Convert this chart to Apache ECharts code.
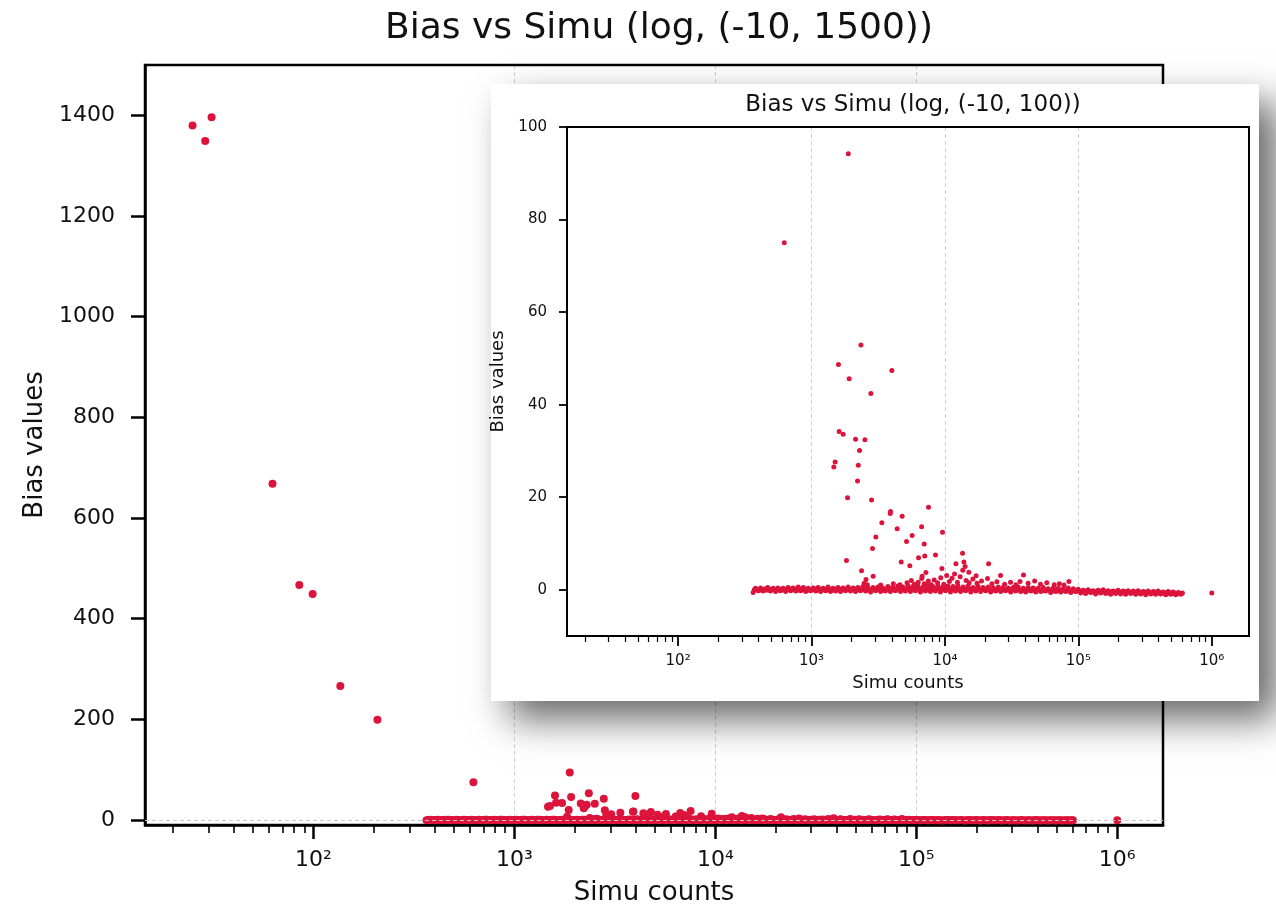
<!DOCTYPE html>
<html>
<head>
<meta charset="utf-8">
<script src="https://cdn.jsdelivr.net/npm/echarts@6/dist/echarts.min.js"></script>
<style>
  html, body { margin: 0; padding: 0; background: #fff; }
  #chart { width: 1276px; height: 911px; }
</style>
</head>
<body>
<div id="chart"></div>
<script>
// simu count / bias value pairs
const outliers = [
  [25, 1380], [28.9, 1349], [31.1, 1396], [62.5, 668], [85, 467], [99, 449], [136, 266], [208, 199],
  [625, 75], [1885, 94.2], [2345, 52.9], [1592, 48.7], [1915, 45.6], [4000, 47.4], [2785, 42.4],
  [1611, 34.2], [1726, 33.6], [2138, 32.5], [2512, 32.4], [2291, 30.1], [1503, 27.6], [1469, 26.5],
  [2241, 26.9], [2213, 23.5], [1862, 19.9], [2818, 19.4], [3908, 16.9], [3890, 16.5], [7530, 17.8],
  [4775, 15.9], [3365, 14.5], [4385, 13.2], [6683, 13.6], [9590, 12.4], [3033, 11.4], [5675, 11.7],
  [5153, 10.4], [6985, 9.9], [2865, 8.9], [6340, 6.9], [7060, 7.3], [8490, 7.5], [4700, 6.0],
  [5455, 5.2], [1828, 6.3], [9490, 4.6], [2371, 4.1], [2897, 2.9], [7195, 3.7], [6745, 2.9],
  [13550, 7.9], [12080, 5.6], [13870, 6.0], [14150, 5.0], [17130, 3.0], [21230, 5.6], [15100, 3.8],
  [20840, 2.4], [26100, 3.1], [38800, 3.2], [84900, 1.8], [1000000, -0.7]
];

// the dense cloud sitting on zero (outer rows)
const band = [
  [365, -0.6], [380, 0.3], [398, -0.2], [415, 0.4], [433, -0.3], [452, 0.2], [470, 0.5], [492, -0.3],
  [515, 0.3], [538, -0.4], [560, 0.4], [585, -0.2], [612, 0.3], [640, -0.4], [668, 0.5], [698, -0.2],
  [730, 0.4], [762, -0.3], [795, 0.6], [830, -0.2], [868, 0.5], [905, -0.4], [945, 0.3], [985, -0.2],
  [1030, 0.4], [1075, -0.3], [1120, 0.5], [1170, -0.4], [1220, 0.3], [1275, -0.2], [1330, 0.6], [1390, -0.4],
  [1450, 0.3], [1515, -0.3], [1580, 0.5], [1650, -0.4], [1720, 0.4], [1800, -0.2], [1880, 0.6], [1960, -0.3],
  [2050, 0.4], [2140, -0.4], [2230, 0.5], [2330, -0.2], [2430, 0.7], [2540, -0.3], [2650, 0.4], [2770, -0.5],
  [2890, 0.5], [3020, -0.2], [3150, 0.6], [3290, -0.4], [3430, 0.3], [3580, -0.3], [3740, 0.7], [3900, -0.4],
  [4070, 0.5], [4250, -0.2], [4440, 0.8], [4640, -0.4], [4840, 0.6], [5050, -0.3], [5280, 0.9], [5510, -0.4],
  [5750, 0.7], [6000, -0.2], [6270, 0.8], [6550, -0.5], [6840, 0.6], [7140, -0.3], [7450, 0.9], [7780, -0.4],
  [8120, 0.7], [8480, -0.3], [8850, 0.8], [9240, -0.5], [9650, 0.6],
  [10100, -0.2], [10550, 0.8], [11000, -0.5], [11500, 0.7], [12000, -0.3], [12500, 0.9], [13100, -0.4],
  [13700, 0.6], [14300, -0.2], [14900, 0.8], [15600, -0.5], [16300, 0.5], [17000, -0.3], [17700, 0.7],
  [18500, -0.4], [19300, 0.5], [20200, -0.2], [21100, 0.6], [22000, -0.5], [23000, 0.4], [24000, -0.3],
  [25100, 0.6], [26200, -0.4], [27300, 0.5], [28500, -0.2], [29800, 0.4], [31100, -0.5], [32500, 0.5],
  [33900, -0.3], [35400, 0.6], [37000, -0.4], [38600, 0.3], [40300, -0.5], [42100, 0.5], [44000, -0.3],
  [45900, 0.4], [47900, -0.5], [50000, 0.3], [52200, -0.4], [54500, 0.5], [56900, -0.3], [59400, 0.2],
  [62000, -0.6], [64800, 0.4], [67600, -0.4], [70600, 0.3], [73700, -0.5], [77000, 0.2], [80400, -0.4],
  [83900, 0.4], [87600, -0.6], [91500, 0.2], [95500, -0.4],
  [99700, 0.1], [104000, -0.7], [108500, -0.1], [113300, -0.8], [118300, 0.0], [123500, -0.6], [129000, -0.2],
  [134700, -0.9], [140600, -0.1], [146800, -0.7], [153300, 0.0], [160000, -0.8], [167100, -0.2], [174500, -1.0],
  [182200, -0.3], [190200, -0.8], [198600, -0.1], [207400, -0.9], [216500, -0.3], [226100, -1.0], [236000, -0.2],
  [246500, -0.8], [257300, -0.3], [268700, -1.0], [280500, -0.2], [292900, -0.9], [305800, -0.4], [319300, -1.1],
  [333400, -0.3], [348100, -0.9], [363400, -0.4], [379500, -1.0], [396200, -0.3], [413700, -0.9], [431900, -0.5],
  [451000, -1.1], [470900, -0.4], [491600, -1.0], [513300, -0.5], [536000, -1.1], [559600, -0.6], [584300, -1.0],
  [602000, -0.7]
];

// the dense cloud, middle row
const bandMid = [
  [372, 0.0], [389, 0.1], [406, -0.1], [424, 0.1], [442, 0.0], [461, -0.1], [481, 0.1], [503, 0.0],
  [526, 0.1], [549, -0.1], [572, 0.0], [598, 0.1], [626, -0.1], [654, 0.1], [683, 0.0], [714, 0.2],
  [746, 0.0], [778, 0.1], [812, -0.1], [849, 0.2], [886, 0.0], [925, 0.1], [965, -0.1], [1008, 0.1],
  [1052, 0.0], [1097, 0.2], [1145, -0.1], [1195, 0.1], [1247, 0.0], [1302, 0.2], [1360, -0.1], [1420, 0.1],
  [1482, 0.0], [1547, 0.2], [1615, -0.1], [1685, 0.1], [1760, 0.0], [1840, 0.2], [1920, 0.0], [2005, 0.1],
  [2095, -0.1], [2185, 0.2], [2280, 0.0], [2380, 0.1], [2485, 0.0], [2595, 0.2], [2710, -0.1], [2830, 0.1],
  [2955, 0.0], [3085, 0.2], [3220, 0.0], [3360, 0.1], [3505, -0.1], [3660, 0.2], [3820, 0.0], [3985, 0.3],
  [4160, 0.0], [4345, 0.2], [4540, 0.1], [4740, 0.3], [4945, 0.0], [5165, 0.2], [5395, 0.1], [5630, 0.3],
  [5875, 0.0], [6135, 0.3], [6410, 0.1], [6695, 0.2], [6990, 0.0], [7295, 0.3], [7615, 0.1], [7950, 0.2],
  [8300, 0.0], [8665, 0.3], [9045, 0.1], [9445, 0.2], [9870, 0.0], [10320, 0.3], [10780, 0.1], [11250, 0.2],
  [11750, 0.0], [12250, 0.3], [12800, 0.1], [13400, 0.2], [14000, 0.0], [14600, 0.2], [15250, 0.1], [15950, 0.2],
  [16650, 0.0], [17350, 0.2], [18100, 0.0], [18900, 0.1], [19750, 0.0], [20650, 0.2], [21550, 0.0], [22500, 0.1],
  [23500, 0.0], [24550, 0.1], [25650, -0.1], [26750, 0.1], [27900, 0.0], [29150, 0.1], [30450, -0.1], [31800, 0.1],
  [33200, 0.0], [34650, 0.1], [36200, -0.1], [37800, 0.0], [39450, -0.1], [41200, 0.1], [43050, -0.1], [44950, 0.0],
  [46900, -0.1], [48950, 0.0], [51100, -0.1], [53350, 0.0], [55700, -0.2], [58150, 0.0], [60700, -0.1], [63400, -0.2],
  [66200, 0.0], [69100, -0.2], [72150, -0.1], [75350, -0.2], [78700, -0.1], [82150, -0.2], [85750, -0.1], [89550, -0.3],
  [93500, -0.2], [97600, -0.3], [101900, -0.3], [106200, -0.4], [110900, -0.3], [115800, -0.5], [120900, -0.3], [126200, -0.5],
  [131800, -0.4], [137600, -0.5], [143700, -0.3], [150000, -0.5], [156600, -0.4], [163500, -0.6], [170800, -0.4], [178300, -0.5],
  [186200, -0.4], [194400, -0.6], [203000, -0.5], [211900, -0.6], [221300, -0.4], [231000, -0.6], [241200, -0.5], [251900, -0.6],
  [263000, -0.5], [274600, -0.7], [286700, -0.5], [299300, -0.6], [312500, -0.5], [326300, -0.7], [340700, -0.6], [355700, -0.7],
  [371400, -0.5], [387800, -0.7], [404900, -0.6], [422700, -0.7], [441400, -0.6], [460900, -0.8], [481200, -0.6], [502400, -0.8],
  [524600, -0.7], [547800, -0.8], [572000, -0.7], [595000, -0.8]
];

// small bumps just above the cloud
const fringe = [
  [2480, 1.4], [2560, 2.2], [2620, 1.1], [3300, 1.0], [4100, 1.3], [4600, 1.1], [5200, 1.5], [5600, 2.0],
  [5900, 1.2], [6300, 1.6], [6700, 2.4], [7000, 1.3], [7500, 1.9], [7900, 1.1], [8300, 2.1], [8800, 1.5],
  [9300, 2.6], [9800, 1.2], [10300, 3.1], [10800, 1.8], [11300, 2.5], [11800, 3.4], [12400, 1.6], [13000, 2.8],
  [13600, 4.2], [14400, 2.0], [15200, 1.5], [16200, 2.3], [17400, 1.4], [18800, 1.9], [22500, 1.3], [24500, 1.7],
  [28000, 1.2], [31000, 1.6], [34000, 1.1], [36500, 1.8], [42000, 1.4], [47000, 1.9], [52000, 1.2], [58000, 1.5],
  [66000, 1.1], [72000, 1.3], [78000, 1.0]
];

const xMajorTicks = [100, 1000, 10000, 100000, 1000000];
const xTickLabels = ['10²', '10³', '10⁴', '10⁵', '10⁶'];
const xMinorTicks = [
  20, 30, 40, 50, 60, 70, 80, 90,
  200, 300, 400, 500, 600, 700, 800, 900,
  2000, 3000, 4000, 5000, 6000, 7000, 8000, 9000,
  20000, 30000, 40000, 50000, 60000, 70000, 80000, 90000,
  200000, 300000, 400000, 500000, 600000, 700000, 800000, 900000
];
const yTicksMain = [0, 200, 400, 600, 800, 1000, 1200, 1400];
const yTicksInset = [0, 20, 40, 60, 80, 100];

const font = 'DejaVu Sans';
const dotColor = '#DC143C';
const allPoints = band.concat(bandMid, fringe, outliers);

function powerLabel(v) {
  for (let i = 0; i < xMajorTicks.length; i++) {
    if (Math.abs(Math.log10(v) - Math.log10(xMajorTicks[i])) < 1e-6) return xTickLabels[i];
  }
  return '';
}

function xAxes(grid, min, max, z, big) {
  return [
    {
      type: 'log', logBase: 10, gridIndex: grid, position: 'bottom', min: min, max: max, z: z,
      axisLine: { show: true, onZero: false, lineStyle: { color: '#000', width: big ? 2.5 : 2 } },
      axisTick: { show: true, customValues: xMajorTicks, length: big ? 14 : 10, lineStyle: { color: '#000', width: big ? 2.5 : 1.8 } },
      axisLabel: { customValues: xMajorTicks, formatter: powerLabel, fontFamily: font, fontSize: big ? 22 : 15, color: '#111', margin: big ? 24 : 18 },
      splitLine: { show: true, showMinLine: false, showMaxLine: false, lineStyle: { type: [4, 3], color: '#cfcfcf', width: 1 } },
      name: 'Simu counts', nameLocation: 'middle', nameGap: big ? 55 : 38,
      nameTextStyle: { fontFamily: font, fontSize: big ? 26 : 18, color: '#111' }
    },
    {
      type: 'log', logBase: 10, gridIndex: grid, position: 'bottom', min: min, max: max, z: z,
      axisLine: { show: false, onZero: false },
      axisTick: { show: true, customValues: xMinorTicks, length: big ? 8 : 6, lineStyle: { color: '#000', width: big ? 1.6 : 1.2 } },
      axisLabel: { show: false },
      splitLine: { show: false }
    }
  ];
}

function yAxis(grid, min, max, ticks, z, big) {
  return {
    type: 'value', gridIndex: grid, min: min, max: max, z: z,
    axisLine: { show: true, onZero: false, lineStyle: { color: '#000', width: big ? 2.5 : 2 } },
    axisTick: { show: true, customValues: ticks, length: big ? 14 : 8, lineStyle: { color: '#000', width: big ? 2.5 : 1.8 } },
    axisLabel: { customValues: ticks, formatter: function (v) { return String(v); }, fontFamily: font, fontSize: big ? 22 : 15, color: '#111', margin: big ? 30 : 20 },
    splitLine: { show: false },
    name: 'Bias values', nameLocation: 'middle', nameGap: big ? 88 : 50,
    nameTextStyle: { fontFamily: font, fontSize: big ? 26 : 18, color: '#111' }
  };
}

function zeroLine() {
  return {
    silent: true, symbol: 'none', animation: false,
    label: { show: false },
    lineStyle: { type: [4, 3], color: '#c8c8c8', width: 1 },
    data: [{ yAxis: 0 }]
  };
}

const chart = echarts.init(document.getElementById('chart'));
chart.setOption({
  animation: false,
  backgroundColor: '#fff',
  textStyle: { fontFamily: font },
  title: [
    { text: 'Bias vs Simu (log, (-10, 1500))', left: 654, top: 6, textAlign: 'center', z: 120,
      textStyle: { fontFamily: font, fontSize: 36, fontWeight: 'normal', color: '#111' } },
    { text: 'Bias vs Simu (log, (-10, 100))', left: 908, top: 89, textAlign: 'center', z: 120,
      textStyle: { fontFamily: font, fontSize: 23, fontWeight: 'normal', color: '#111' } }
  ],
  graphic: [{
    type: 'rect', z: 50,
    shape: { x: 491, y: 84, width: 768, height: 617 },
    style: { fill: '#fff', shadowBlur: 36, shadowOffsetX: 18, shadowOffsetY: 18, shadowColor: 'rgba(0,0,0,0.6)' }
  }],
  grid: [
    { left: 145, top: 65, width: 1018, height: 760, show: true, borderColor: '#000', borderWidth: 2.5, z: 1 },
    { left: 567, top: 127, width: 682, height: 509, show: true, borderColor: '#000', borderWidth: 2, z: 101 }
  ],
  xAxis: xAxes(0, 14.5, 1.69e6, 0, true).concat(xAxes(1, 14.7, 1.9e6, 100, false)),
  yAxis: [
    yAxis(0, -10, 1500, yTicksMain, 0, true),
    yAxis(1, -10, 100, yTicksInset, 100, false)
  ],
  series: [
    {
      type: 'scatter', xAxisIndex: 0, yAxisIndex: 0, data: allPoints, z: 2,
      symbolSize: 8, itemStyle: { color: dotColor, opacity: 1 },
      emphasis: { disabled: true }, markLine: zeroLine()
    },
    {
      type: 'scatter', xAxisIndex: 2, yAxisIndex: 1, data: allPoints, z: 102, clip: true,
      symbolSize: 5, itemStyle: { color: dotColor, opacity: 1 },
      emphasis: { disabled: true }, markLine: zeroLine()
    }
  ]
});
</script>
</body>
</html>
